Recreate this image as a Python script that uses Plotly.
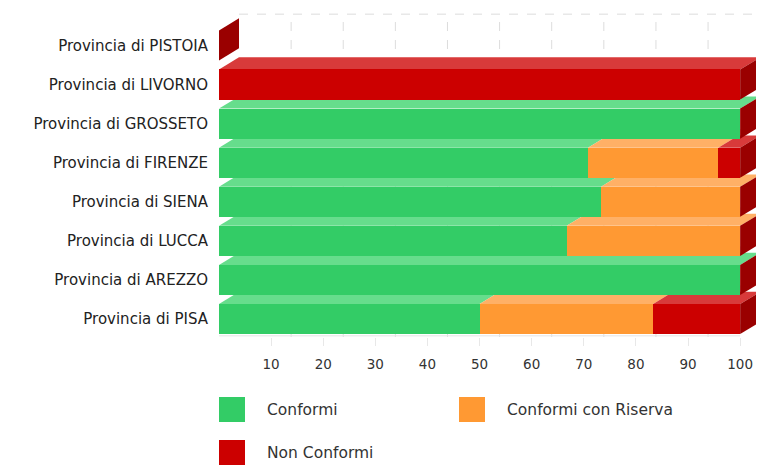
import plotly.graph_objects as go

# dati (percentuali), dal basso verso l'alto
province = ["Provincia di PISA", "Provincia di AREZZO", "Provincia di LUCCA",
            "Provincia di SIENA", "Provincia di FIRENZE", "Provincia di GROSSETO",
            "Provincia di LIVORNO", "Provincia di PISTOIA"]
conformi = [50.0, 100.0, 66.7, 73.3, 70.8, 100.0, 0.0, 0.0]
con_riserva = [33.3, 0.0, 33.3, 26.7, 25.0, 0.0, 0.0, 0.0]
non_conformi = [16.7, 0.0, 0.0, 0.0, 4.2, 0.0, 100.0, 0.0]
tick_x = [10, 20, 30, 40, 50, 60, 70, 80, 90, 100]

serie = ["Conformi", "Conformi con Riserva", "Non Conformi"]
valori = [conformi, con_riserva, non_conformi]
colori = ["#33cc66", "#ff9933", "#cc0000"]
colori_top = ["#66dd8c", "#ffb066", "#d83a3a"]
colore_lato = "#9a0000"

# geometria finta 3D
H = 0.385      # mezza altezza della faccia frontale
DX = 3.84      # profondita' in x (unita' dati)
DY = 0.31      # profondita' in y

OFF = 8  # margine del body della pagina
W, HT = 764 - OFF, 469 - OFF
ML, MR, MT, MB = 219 - OFF, 3, 13 - OFF, 132
X_RANGE = [0, 104]
Y_RANGE = [-0.46, 7.83]

fig = go.Figure()
shapes = []

# griglia sul fondo
for t in tick_x:
    shapes.append(dict(type="line", xref="x", yref="y", x0=t + DX, x1=t + DX,
                       y0=Y_RANGE[0], y1=Y_RANGE[1] - 0.03, layer="between",
                       line=dict(color="#dddddd", width=1, dash="dash")))
shapes.append(dict(type="line", xref="x", yref="y", x0=DX, x1=X_RANGE[1],
                   y0=Y_RANGE[1] - 0.03, y1=Y_RANGE[1] - 0.03, layer="between",
                   line=dict(color="#dddddd", width=1, dash="dash")))
# linea di base
shapes.append(dict(type="line", xref="x", yref="y", x0=0, x1=100,
                   y0=Y_RANGE[0] + 0.03, y1=Y_RANGE[0] + 0.03, layer="between",
                   line=dict(color="#e4e4e4", width=1)))

# facce superiori e laterali
for i in range(len(province)):
    base = 0.0
    for s in range(len(serie)):
        v = valori[s][i]
        x0, x1 = base, base + v
        if v > 0:
            path = (f"M{x0},{i + H} L{x1},{i + H} L{x1 + DX},{i + H + DY} "
                    f"L{x0 + DX},{i + H + DY} Z")
            shapes.append(dict(type="path", xref="x", yref="y", path=path,
                               fillcolor=colori_top[s], line=dict(width=0),
                               layer="between"))
        base = x1
    path = (f"M{base},{i - H} L{base},{i + H} L{base + DX},{i + H + DY} "
            f"L{base + DX},{i - H + DY} Z")
    shapes.append(dict(type="path", xref="x", yref="y", path=path,
                       fillcolor=colore_lato, line=dict(width=0), layer="between"))

# facce frontali
for s in range(len(serie)):
    fig.add_trace(go.Bar(
        y=list(range(len(province))), x=valori[s], orientation="h",
        name=serie[s], marker=dict(color=colori[s], line=dict(width=0)),
        width=2 * H, showlegend=False, hoverinfo="x+name"))

# legenda manuale (coordinate in pixel della pagina)
pw = W - ML - MR
ph = HT - MT - MB
def px(x):
    return (x - OFF - ML) / pw
def py(y):
    return (HT - MB - (y - OFF)) / ph

legenda = [(219, 397, 265), (459, 397, 505), (219, 440, 265)]
annotations = []
for s, (lx, ly, tx) in enumerate(legenda):
    shapes.append(dict(type="rect", xref="paper", yref="paper",
                       x0=px(lx), x1=px(lx + 26), y0=py(ly), y1=py(ly + 25),
                       fillcolor=colori[s], line=dict(width=0)))
    annotations.append(dict(xref="paper", yref="paper", x=px(tx), y=py(ly + 13),
                            text=serie[s], showarrow=False, xanchor="left",
                            yanchor="middle",
                            font=dict(family="DejaVu Sans", size=15.5, color="#333333")))

fig.update_layout(
    barmode="stack",
    width=W, height=HT, autosize=False,
    margin=dict(l=ML, r=MR, t=MT, b=MB),
    plot_bgcolor="white", paper_bgcolor="white",
    shapes=shapes, annotations=annotations,
    showlegend=False,
    font=dict(family="DejaVu Sans", size=12, color="#333333"),
    xaxis=dict(range=X_RANGE, tickvals=tick_x, showgrid=False, zeroline=False,
               ticks="outside", ticklen=8, tickcolor="#e8e8e8", tickwidth=1,
               showline=False, ticklabelstandoff=7, automargin=False,
               tickfont=dict(size=13.5, color="#333333")),
    yaxis=dict(range=Y_RANGE, tickvals=list(range(len(province))),
               ticktext=province, showgrid=False, zeroline=False, ticks="",
               ticklabelstandoff=10, automargin=False,
               tickfont=dict(size=15, color="#222222")),
)

fig.write_html("out.html")
